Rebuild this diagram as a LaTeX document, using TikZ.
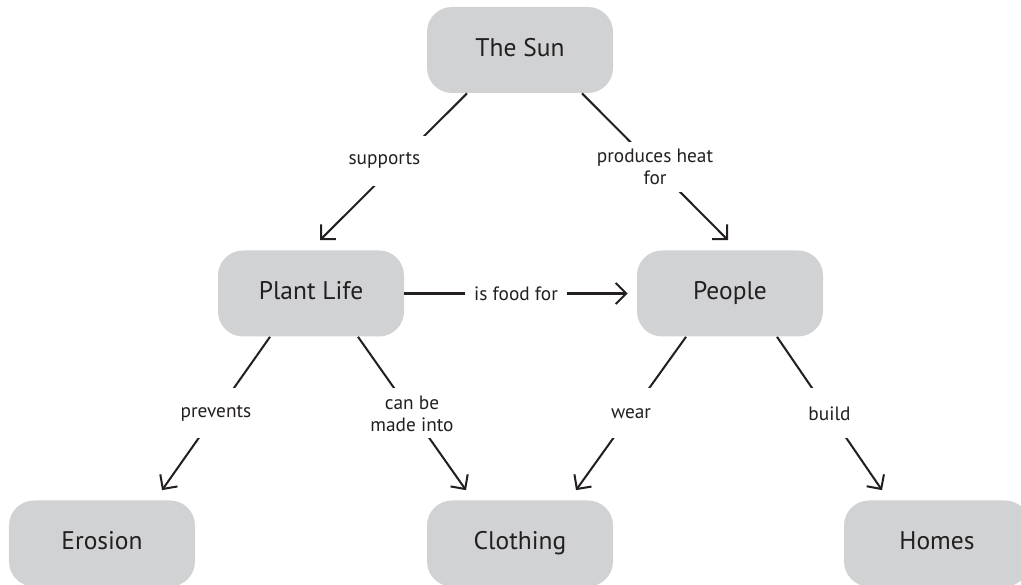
\documentclass[tikz,border=0pt]{standalone}
\usepackage{fontspec}
\setmainfont{PT Sans}
\usetikzlibrary{arrows.meta}
\definecolor{gris}{RGB}{209,210,212}
\definecolor{encre}{RGB}{35,31,32}
\begin{document}
\begin{tikzpicture}
\tikzset{boite/.style={fill=gris, rounded corners=0.5cm, minimum width=3.72cm, minimum height=1.72cm, inner sep=0pt, text height=0.7em, text depth=0pt, text=encre, font=\fontsize{14.5}{17}\selectfont}}
\tikzset{etiq/.style={fill=white, minimum height=1cm, inner xsep=0.19cm, align=center, text=encre, font=\fontsize{11}{12.5}\selectfont}}
\tikzset{lien/.style={draw=encre, line width=1.15pt, -{Straight Barb[length=2.1mm, width=4.2mm]}}}
\clip (0, 0) rectangle (20.42, 11.7);
\node[boite] (Sun) at (10.40, 10.70) {The Sun};
\node[boite] (Plant) at (6.22, 5.83) {Plant Life};
\node[boite] (People) at (14.60, 5.83) {People};
\node[boite] (Erosion) at (2.04, 0.83) {Erosion};
\node[boite] (Clothing) at (10.40, 0.83) {Clothing};
\node[boite] (Homes) at (18.74, 0.83) {Homes};
\draw[lien] ([xshift=-1.06cm]Sun.south) -- node[etiq, pos=0.46, xshift=-0.3cm] {supports} ([shift={(0.18,0.2)}]Plant.north);
\draw[lien] ([xshift=1.24cm]Sun.south) -- node[etiq] {produces heat\\for} ([shift={(-0.04,0.2)}]People.north);
\draw[lien] (Plant.east) -- node[etiq] {is food for} ([xshift=-0.18cm]People.west);
\draw[lien] ([xshift=-0.82cm]Plant.south) -- node[etiq] {prevents} ([shift={(1.2,0.2)}]Erosion.north);
\draw[lien] ([xshift=0.94cm]Plant.south) -- node[etiq] {can be\\made into} ([shift={(-1.08,0.2)}]Clothing.north);
\draw[lien] ([xshift=-0.88cm]People.south) -- node[etiq] {wear} ([shift={(1.12,0.2)}]Clothing.north);
\draw[lien] ([xshift=0.94cm]People.south) -- node[etiq] {build} ([shift={(-1.10,0.2)}]Homes.north);
\end{tikzpicture}
\end{document}
